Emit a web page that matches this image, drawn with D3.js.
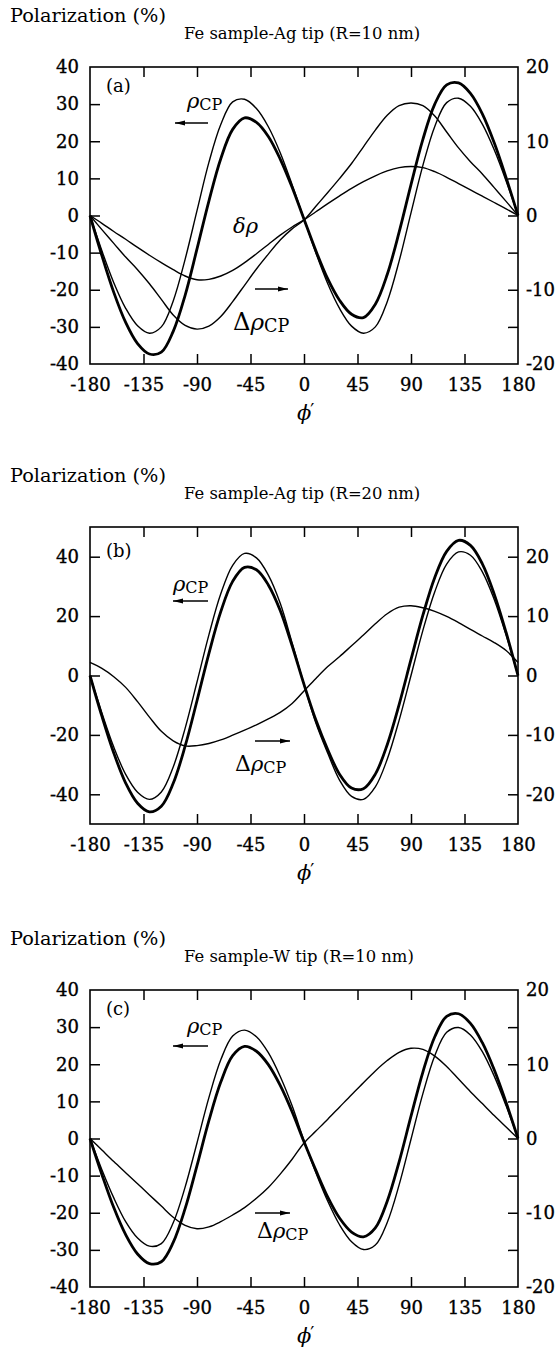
<!DOCTYPE html>
<html>
<head>
<meta charset="utf-8">
<script src="https://cdn.jsdelivr.net/npm/d3@7"></script>
<style>
  body { margin: 0; background: #fff; }
  svg { display: block; }
  text { font-family: "DejaVu Serif", serif; fill: #000; }
</style>
</head>
<body>
<svg id="chart" width="558" height="1355"></svg>
<script>
// angle phi' (deg)
const phi = [-180,-170,-160,-150,-140,-130,-120,-110,-100,-90,-80,-70,-60,-50,-40,-30,-20,-10,
             0,10,20,30,40,50,60,70,80,90,100,110,120,130,140,150,160,170,180];

// (a) Fe sample - Ag tip, R = 10 nm
const rhoThinA  = [0,-9.5,-18.1,-25.0,-29.7,-31.7,-30.0,-23.0,-11.8,1.3,14.3,24.5,30.6,31.3,28.8,23.9,16.9,8.3,
                   -0.9,-10.1,-18.4,-25.1,-29.8,-31.7,-30.0,-23.2,-12.3,0.7,13.5,24.0,30.4,31.6,29.4,24.6,17.7,9.3,0];
const rhoThickA = [0,-10.8,-20.7,-28.8,-34.5,-37.3,-36.8,-31.2,-21.5,-9.0,3.9,15.3,23.2,26.3,25.1,21.3,15.2,7.6,
                   -1.0,-9.5,-17.1,-22.9,-26.6,-27.5,-23.9,-15.9,-4.5,8.3,20.5,30.0,35.2,35.7,32.9,27.4,19.6,10.2,0];
const dRhoCpA   = [0,-1.9,-3.75,-5.6,-7.3,-9.2,-11.3,-13.4,-14.8,-15.3,-14.9,-13.6,-11.6,-9.4,-7.2,-5.2,-3.3,-1.8,
                   -0.6,1.25,3.1,5.0,7.0,9.25,11.5,13.5,14.8,15.15,14.8,13.4,11.25,9.1,7.25,5.6,3.75,1.9,0];
const deltaRhoA = [0,-1.05,-2.15,-3.2,-4.3,-5.35,-6.35,-7.3,-8.15,-8.65,-8.6,-8.15,-7.4,-6.35,-5.15,-3.9,-2.65,-1.55,
                   -0.6,0.5,1.6,2.65,3.65,4.55,5.35,6.0,6.45,6.6,6.45,5.9,5.15,4.3,3.45,2.6,1.75,0.9,0];

// (b) Fe sample - Ag tip, R = 20 nm
const rhoThinB  = [0,-12.6,-24.1,-33.3,-39.3,-41.7,-39.2,-30.8,-17.8,-2.2,13.7,27.5,37.1,41.1,39.6,33.8,24.3,11.0,
                   -3.0,-16.0,-26.2,-35.3,-40.7,-41.7,-37.5,-28.2,-15.1,0.0,15.2,28.2,37.5,41.6,40.5,34.9,25.6,13.6,0];
const rhoThickB = [0,-13.7,-26.1,-36.2,-43.0,-45.9,-44.0,-36.3,-23.8,-8.5,7.4,21.5,31.7,36.4,35.6,30.5,21.9,10.0,
                   -3.0,-15.0,-25.0,-33.3,-37.9,-38.1,-33.2,-23.3,-9.8,5.4,20.3,33.0,41.8,45.5,43.8,37.6,27.4,14.5,0];
const dRhoCpB   = [2.2,1.2,-0.2,-2.0,-4.4,-7.0,-9.4,-11.0,-11.85,-11.8,-11.45,-10.85,-10.05,-9.2,-8.3,-7.3,-6.2,-4.7,
                   -2.6,-0.5,1.5,3.2,5.0,6.8,8.7,10.4,11.5,11.75,11.4,10.8,9.95,8.9,7.75,6.65,5.55,4.2,2.2];

// (c) Fe sample - W tip, R = 10 nm
const rhoThinC  = [0,-8.4,-16.0,-22.4,-26.8,-29.0,-28.3,-22.7,-13.1,-1.2,11.0,21.2,27.6,29.2,27.4,23.1,16.7,8.8,
                   -0.6,-9.2,-16.9,-23.3,-27.8,-29.9,-28.7,-22.6,-12.5,-0.2,12.1,22.3,28.6,29.9,27.9,23.4,16.8,8.8,0];
const rhoThickC = [0,-9.7,-18.6,-25.9,-31.1,-33.7,-33.2,-28.0,-18.9,-7.3,4.8,15.2,22.3,24.8,23.5,19.9,14.3,7.2,
                   -0.9,-8.6,-15.8,-21.5,-25.2,-26.5,-24.1,-16.9,-6.3,6.0,17.9,27.4,32.9,33.6,31.0,25.8,18.5,9.7,0];
const dRhoCpC   = [0,-1.55,-3.1,-4.6,-6.1,-7.6,-9.1,-10.6,-11.7,-12.15,-11.9,-11.2,-10.3,-9.3,-8.05,-6.6,-4.8,-2.8,
                   -0.6,1.0,2.6,4.25,5.9,7.5,9.1,10.5,11.6,12.15,12.0,11.1,9.7,8.0,6.3,4.7,3.1,1.55,0];

// ticks
const xTickLabels = [-180,-135,-90,-45,0,45,90,135,180];
const xTicks      = [-135,-90,-45,0,45,90,135];
const leftLabels40  = [-40,-30,-20,-10,0,10,20,30,40];
const leftTicks40   = [-30,-20,-10,0,10,20,30];
const rightLabels20 = [-20,-10,0,10,20];
const rightTicks20  = [-15,-10,-5,0,5,10,15];
const leftLabels50  = [-40,-20,0,20,40];
const rightLabels25 = [-20,-10,0,10,20];

const panels = [
  { tag: "(a)", title: "Fe sample-Ag tip (R=10 nm)", top: 67, yMax: 40,
    leftLabels: leftLabels40, leftTicks: leftTicks40, rightLabels: rightLabels20, rightTicks: rightTicks20,
    thin: rhoThinA, thick: rhoThickA, rightSeries: [dRhoCpA, deltaRhoA],
    tagY: 25, rho: [187, 41], arrowL: [208, 175, 56], arrowR: [255, 288, 222], dLab: [233, 263, 1.1], delta: [233, 166] },
  { tag: "(b)", title: "Fe sample-Ag tip (R=20 nm)", top: 527, yMax: 50,
    leftLabels: leftLabels50, leftTicks: leftLabels50, rightLabels: rightLabels25, rightTicks: rightLabels25,
    thin: rhoThinB, thick: rhoThickB, rightSeries: [dRhoCpB],
    tagY: 30, rho: [173, 64], arrowL: [208, 173, 74], arrowR: [255, 290, 214], dLab: [235, 244, 1] },
  { tag: "(c)", title: "Fe sample-W tip (R=10 nm)", top: 990, yMax: 40,
    leftLabels: leftLabels40, leftTicks: leftTicks40, rightLabels: rightLabels20, rightTicks: rightTicks20,
    thin: rhoThinC, thick: rhoThickC, rightSeries: [dRhoCpC],
    tagY: 25, rho: [187, 43], arrowL: [208, 173, 56], arrowR: [255, 290, 223], dLab: [257, 248, 1] }
];

const left = 90, right = 518, plotH = 297;
const svg = d3.select("#chart");
const plain = d => String(d);   // keep the hyphen minus of the original

svg.append("defs").append("marker")
    .attr("id", "head")
    .attr("viewBox", "0 0 10 6")
    .attr("refX", 10).attr("refY", 3)
    .attr("markerWidth", 10).attr("markerHeight", 6)
    .attr("markerUnits", "userSpaceOnUse")
    .attr("orient", "auto")
  .append("path")
    .attr("d", "M0,0.4 L10,3 L0,5.6 Z")
    .attr("fill", "#000");

const x = d3.scaleLinear().domain([-180, 180]).range([left, right]);

function styleAxis(sel) {
  sel.select(".domain").remove();
  sel.selectAll("line").attr("stroke", "#000").attr("stroke-width", 1.5);
  sel.selectAll("text").attr("font-size", 18).attr("font-family", "DejaVu Serif")
    .attr("fill", "#000").attr("stroke", "#000").attr("stroke-width", 0.35);
}

panels.forEach(p => {
  const bottom = p.top + plotH;
  const y  = d3.scaleLinear().domain([-p.yMax, p.yMax]).range([bottom, p.top]);
  const yr = d3.scaleLinear().domain([-p.yMax / 2, p.yMax / 2]).range([bottom, p.top]);
  const g = svg.append("g");

  // headers
  g.append("text").attr("x", 10).attr("y", p.top - 45).attr("font-size", 19.3).text("Polarization (%)");
  g.append("text").attr("x", 184).attr("y", p.top - 28).attr("font-size", 16.4).text(p.title);

  // inward ticks
  g.append("g").attr("transform", `translate(0,${bottom})`)
    .call(d3.axisBottom(x).tickValues(xTicks).tickSize(-10).tickFormat("")).call(styleAxis);
  g.append("g").attr("transform", `translate(0,${p.top})`)
    .call(d3.axisTop(x).tickValues(xTicks).tickSize(-10).tickFormat("")).call(styleAxis);
  g.append("g").attr("transform", `translate(${left},0)`)
    .call(d3.axisLeft(y).tickValues(p.leftTicks).tickSize(-10).tickFormat("")).call(styleAxis);
  g.append("g").attr("transform", `translate(${right},0)`)
    .call(d3.axisRight(yr).tickValues(p.rightTicks).tickSize(-10).tickFormat("")).call(styleAxis);

  // labels
  g.append("g").attr("transform", `translate(0,${bottom})`)
    .call(d3.axisBottom(x).tickValues(xTickLabels).tickSize(0).tickPadding(14).tickFormat(plain)).call(styleAxis);
  g.append("g").attr("transform", `translate(${left},0)`)
    .call(d3.axisLeft(y).tickValues(p.leftLabels).tickSize(0).tickPadding(11).tickFormat(plain)).call(styleAxis);
  g.append("g").attr("transform", `translate(${right},0)`)
    .call(d3.axisRight(yr).tickValues(p.rightLabels).tickSize(0).tickPadding(8).tickFormat(plain)).call(styleAxis);

  // frame
  g.append("rect")
    .attr("x", left).attr("y", p.top)
    .attr("width", right - left).attr("height", plotH)
    .attr("fill", "none").attr("stroke", "#000").attr("stroke-width", 1.6);

  const lineL = d3.line().x((d, i) => x(phi[i])).y(d => y(d)).curve(d3.curveCatmullRom.alpha(0.5));
  const lineR = d3.line().x((d, i) => x(phi[i])).y(d => yr(d)).curve(d3.curveCatmullRom.alpha(0.5));

  p.rightSeries.forEach(s => {
    g.append("path").datum(s).attr("d", lineR)
      .attr("fill", "none").attr("stroke", "#000").attr("stroke-width", 1.4);
  });
  g.append("path").datum(p.thin).attr("d", lineL)
    .attr("fill", "none").attr("stroke", "#000").attr("stroke-width", 1.4);
  g.append("path").datum(p.thick).attr("d", lineL)
    .attr("fill", "none").attr("stroke", "#000").attr("stroke-width", 2.8);

  // annotations
  g.append("text").attr("x", 106).attr("y", p.top + p.tagY).attr("font-size", 18).text(p.tag);

  const r = g.append("text").attr("x", p.rho[0]).attr("y", p.top + p.rho[1]);
  r.append("tspan").attr("font-style", "italic").attr("font-size", 21).text("ρ");
  r.append("tspan").attr("font-size", 16).attr("dy", 2).text("CP");

  g.append("line")
    .attr("x1", p.arrowL[0]).attr("x2", p.arrowL[1])
    .attr("y1", p.top + p.arrowL[2]).attr("y2", p.top + p.arrowL[2])
    .attr("stroke", "#000").attr("stroke-width", 1.3).attr("marker-end", "url(#head)");
  g.append("line")
    .attr("x1", p.arrowR[0]).attr("x2", p.arrowR[1])
    .attr("y1", p.top + p.arrowR[2]).attr("y2", p.top + p.arrowR[2])
    .attr("stroke", "#000").attr("stroke-width", 1.3).attr("marker-end", "url(#head)");

  const d = g.append("text").attr("x", p.dLab[0]).attr("y", p.top + p.dLab[1]);
  d.append("tspan").attr("font-size", 22 * p.dLab[2]).text("Δ");
  d.append("tspan").attr("font-style", "italic").attr("font-size", 21 * p.dLab[2]).text("ρ");
  d.append("tspan").attr("font-size", 16 * p.dLab[2]).attr("dy", 2).text("CP");

  if (p.delta) {
    g.append("text").attr("x", p.delta[0]).attr("y", p.top + p.delta[1])
      .attr("font-style", "italic").attr("font-size", 21).text("δρ");
  }

  const f = g.append("text").attr("x", x(0) - 7).attr("y", bottom + 56).attr("font-size", 21);
  f.append("tspan").attr("font-style", "italic").text("ϕ");
  f.append("tspan").attr("dx", -1).attr("dy", -3).attr("font-size", 18).text("′");
});
</script>
</body>
</html>
